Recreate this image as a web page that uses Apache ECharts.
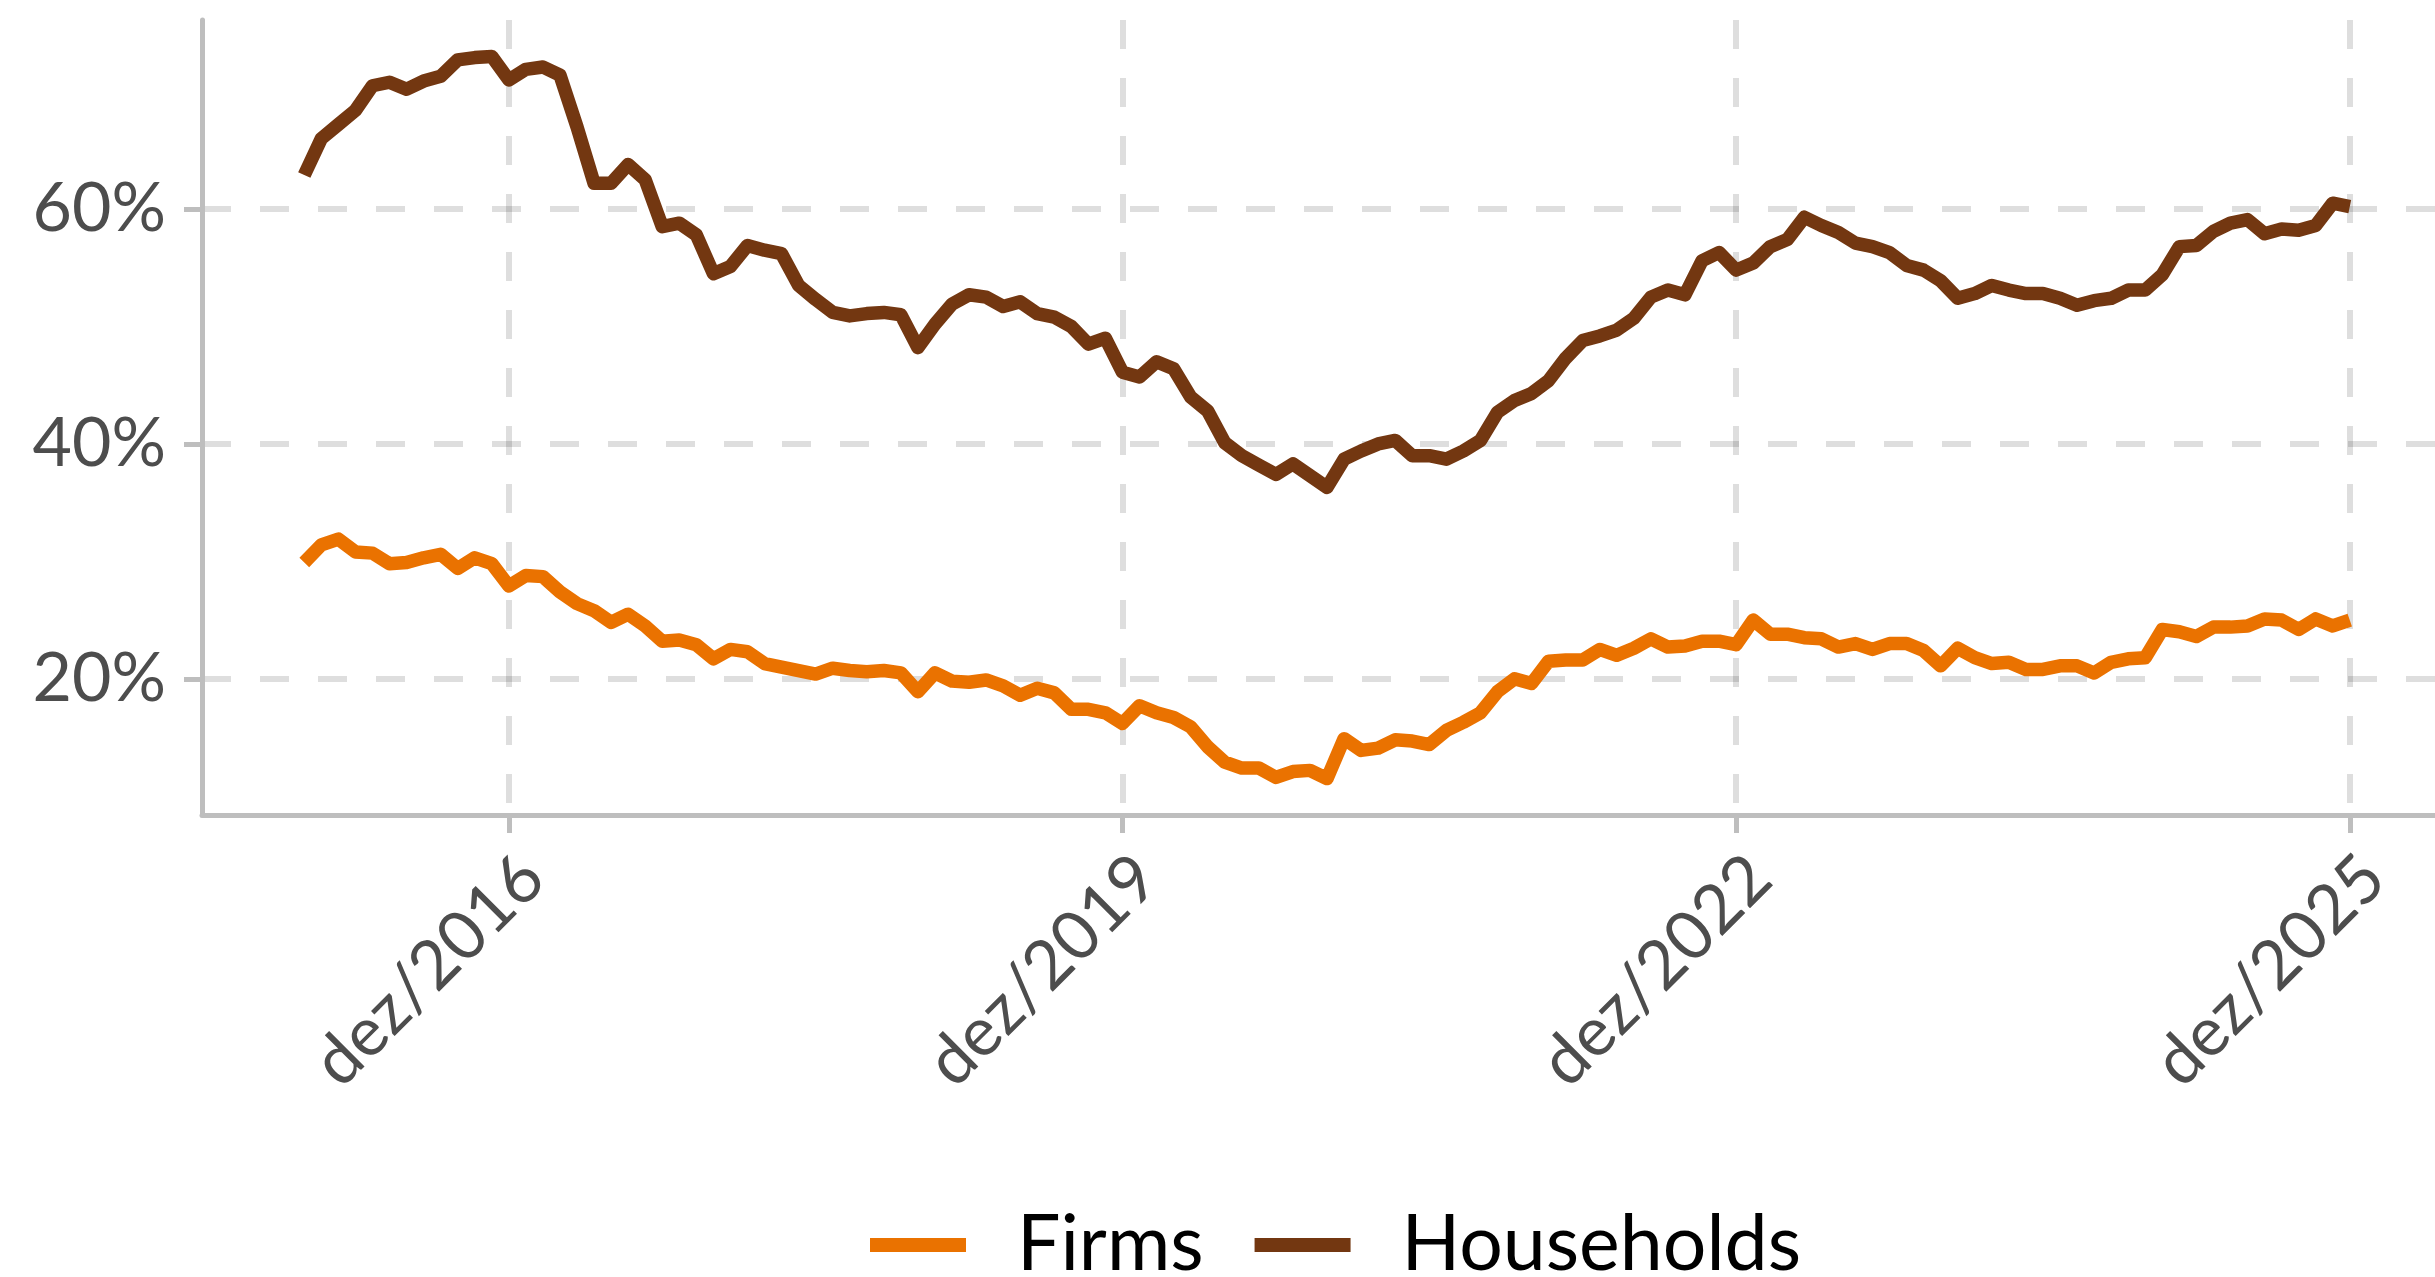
<!DOCTYPE html>
<html>
<head>
<meta charset="utf-8">
<script src="https://cdn.jsdelivr.net/npm/echarts@6/dist/echarts.min.js"></script>
<style>
  html, body { margin: 0; padding: 0; background: #ffffff; }
  #chart { width: 2435px; height: 1277px; }
</style>
</head>
<body>
<div id="chart"></div>
<script>
// Monthly observations, dez/2015 .. dez/2025 (index 0 = dez/2015)
const firms = [
  29.9, 31.4, 31.9, 30.8, 30.7, 29.8, 29.9, 30.3, 30.6, 29.4, 30.3, 29.8,
  27.9, 28.8, 28.7, 27.4, 26.4, 25.8, 24.8, 25.5, 24.5, 23.2, 23.3, 22.9,
  21.7, 22.5, 22.3, 21.3, 21.0, 20.7, 20.4, 20.9, 20.7, 20.6, 20.7, 20.5,
  18.9, 20.5, 19.8, 19.7, 19.9, 19.4, 18.6, 19.2, 18.8, 17.4, 17.4, 17.1,
  16.2, 17.7, 17.1, 16.7, 15.9, 14.2, 12.9, 12.4, 12.4, 11.6, 12.1, 12.2,
  11.5, 14.9, 13.9, 14.1, 14.8, 14.7, 14.4, 15.6, 16.3, 17.1, 18.9, 20.0,
  19.6, 21.5, 21.6, 21.6, 22.5, 22.0, 22.6, 23.4, 22.7, 22.8, 23.2, 23.2,
  22.9, 25.0, 23.8, 23.8, 23.5, 23.4, 22.7, 23.0, 22.5, 23.0, 23.0, 22.4,
  21.1, 22.6, 21.8, 21.3, 21.4, 20.8, 20.8, 21.1, 21.1, 20.5, 21.4, 21.7,
  21.8, 24.2, 24.0, 23.6, 24.4, 24.4, 24.5, 25.1, 25.0, 24.2, 25.1, 24.5,
  25.0
];

const households = [
  62.9, 66.0, 67.2, 68.4, 70.5, 70.8, 70.2, 70.9, 71.3, 72.7, 72.9, 73.0,
  71.0, 71.9, 72.1, 71.4, 67.0, 62.2, 62.2, 63.8, 62.5, 58.5, 58.8, 57.8,
  54.5, 55.1, 56.9, 56.5, 56.2, 53.5, 52.3, 51.2, 50.9, 51.1, 51.2, 51.0,
  48.2, 50.2, 51.9, 52.7, 52.5, 51.7, 52.1, 51.1, 50.8, 50.0, 48.5, 49.0,
  46.1, 45.7, 47.0, 46.4, 44.0, 42.8, 40.1, 39.0, 38.2, 37.4, 38.3, 37.3,
  36.3, 38.7, 39.4, 40.0, 40.3, 39.0, 39.0, 38.7, 39.4, 40.3, 42.7, 43.7,
  44.3, 45.4, 47.3, 48.8, 49.2, 49.7, 50.7, 52.5, 53.1, 52.7, 55.6, 56.3,
  54.8, 55.4, 56.8, 57.4, 59.3, 58.6, 58.0, 57.1, 56.8, 56.3, 55.2, 54.8,
  53.9, 52.4, 52.8, 53.5, 53.1, 52.8, 52.8, 52.4, 51.8, 52.2, 52.4, 53.1,
  53.1, 54.4, 56.8, 56.9, 58.1, 58.8, 59.1, 57.9, 58.3, 58.2, 58.6, 60.5,
  60.2
];

// x tick positions (month index) and their labels
const xTickIndex = [12, 48, 84, 120];
const xTickLabels = ['dez/2016', 'dez/2019', 'dez/2022', 'dez/2025'];
// y ticks
const yTicks = [20, 40, 60];
const yTickLabels = ['20%', '40%', '60%'];

const seriesNames = ['Firms', 'Households'];
const seriesColors = ['#EA7200', '#733711'];

function pairs(arr) { return arr.map((v, i) => [i, v]); }

const chart = echarts.init(document.getElementById('chart'), null, { renderer: 'canvas' });

const axisGrey = '#BEBEBE';
const gridCol = 'rgba(0,0,0,0.13)';
const font = 'Lato';

chart.setOption({
  backgroundColor: '#ffffff',
  animation: false,
  grid: { left: 202, right: 0, top: 20, bottom: 462, containLabel: false },
  legend: {
    data: seriesNames,
    left: 870,
    top: 1205,
    padding: 0,
    itemWidth: 96,
    itemHeight: 14,
    itemGap: 51,
    icon: 'rect',
    textStyle: { fontFamily: font, fontSize: 77, color: '#000000', padding: [0, 0, 0, 46], lineHeight: 80 }
  },
  xAxis: {
    type: 'value',
    min: -6,
    max: 125,
    axisLine: { show: true, onZero: false, lineStyle: { color: axisGrey, width: 5 } },
    axisTick: { show: true, length: 18, customValues: xTickIndex, lineStyle: { color: axisGrey, width: 5 } },
    axisLabel: {
      customValues: xTickIndex,
      rotate: 45,
      align: 'right',
      verticalAlign: 'top',
      margin: 28,
      fontFamily: font,
      fontSize: 68,
      color: '#4D4D4D',
      formatter: function (v) { const k = xTickIndex.indexOf(Math.round(v)); return k >= 0 ? xTickLabels[k] : ''; }
    },
    splitLine: { show: true, lineStyle: { color: gridCol, width: 6, type: [29, 29] } }
  },
  yAxis: {
    type: 'value',
    min: 8.4,
    max: 76.1,
    axisLine: { show: true, onZero: false, lineStyle: { color: axisGrey, width: 5 } },
    axisTick: { show: true, length: 18, customValues: yTicks, lineStyle: { color: axisGrey, width: 5 } },
    axisLabel: {
      customValues: yTicks,
      margin: 36,
      fontFamily: font,
      fontSize: 68,
      color: '#4D4D4D',
      formatter: function (v) { const k = yTicks.indexOf(Math.round(v)); return k >= 0 ? yTickLabels[k] : ''; }
    },
    splitLine: { show: true, lineStyle: { color: gridCol, width: 6, type: [29, 29] } }
  },
  series: [
    {
      name: seriesNames[0], type: 'line', data: pairs(firms), showSymbol: false, symbol: 'none',
      color: seriesColors[0],
      lineStyle: { color: seriesColors[0], width: 13.5, join: 'round', cap: 'butt' }
    },
    {
      name: seriesNames[1], type: 'line', data: pairs(households), showSymbol: false, symbol: 'none',
      color: seriesColors[1],
      lineStyle: { color: seriesColors[1], width: 13.5, join: 'round', cap: 'butt' }
    }
  ]
});
</script>
</body>
</html>
